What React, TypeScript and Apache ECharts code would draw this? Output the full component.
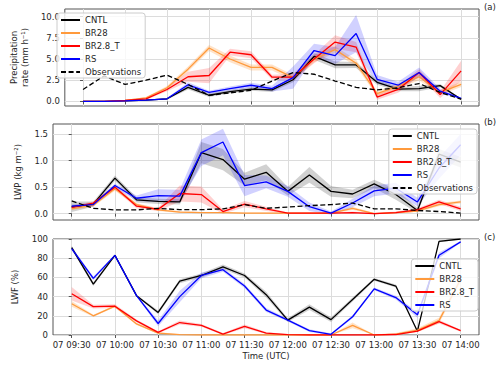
import React, { useEffect, useRef } from "react";
import * as echarts from "echarts";

const times = ["09:30","09:45","10:00","10:15","10:30","10:45","11:00","11:15","11:30","11:45","12:00","12:15","12:30","12:45","13:00","13:15","13:30","13:45","14:00"];
const xTickIdx = [0, 2, 4, 6, 8, 10, 12, 14, 16, 18];

const names = ["CNTL", "BR28", "BR2.8_T", "RS"];
const obsName = "Observations";
const lineColors = ["#000000", "#ff9a3c", "#ff0000", "#0000ff"];
const bandColors = ["rgba(0,0,0,0.18)", "rgba(255,154,60,0.28)", "rgba(255,0,0,0.18)", "rgba(0,0,255,0.18)"];

// Panel (a): precipitation rate (mm h-1)
const cntlA = [0, 0, 0.05, 0.15, 0.3, 1.65, 0.72, 1.15, 1.45, 1.35, 2.55, 5.3, 4.3, 4.3, 2.25, 1.45, 1.5, 1.85, 0.25];
const br28A = [0, 0, 0.1, 0.4, 1.6, 3.8, 6.3, 5.0, 4.0, 4.0, 2.8, 5.0, 6.1, 4.5, 0.9, 1.8, 2.9, 1.05, 2.0];
const br28tA = [0, 0, 0.1, 0.3, 1.4, 2.9, 3.05, 5.8, 5.5, 2.85, 2.85, 5.0, 7.0, 6.4, 0.5, 1.4, 3.4, 0.8, 3.6];
const rsA = [0, 0, 0.05, 0.15, 0.3, 1.95, 1.05, 1.5, 1.9, 1.5, 2.8, 6.0, 5.4, 8.0, 2.6, 1.9, 3.4, 1.2, 0.35];
const obsA = [1.4, 3.0, 2.0, 2.5, 3.1, 2.0, 0.7, 1.0, 1.3, 2.4, 3.4, 3.2, 2.4, 1.65, 1.35, 1.6, 2.1, 1.05, 0.25];
const cntlSpreadA = [0, 0, 0.02, 0.05, 0.1, 0.25, 0.2, 0.2, 0.2, 0.25, 0.3, 0.4, 0.4, 0.35, 0.3, 0.25, 0.3, 0.2, 0.1];
const br28SpreadA = [0, 0, 0.05, 0.1, 0.2, 0.3, 0.35, 0.4, 0.35, 0.35, 0.3, 0.4, 0.4, 0.4, 0.3, 0.3, 0.4, 0.3, 0.3];
const br28tSpreadA = [0, 0, 0.05, 0.1, 0.2, 0.6, 0.9, 0.4, 0.4, 0.3, 0.4, 0.5, 0.8, 0.6, 0.3, 0.4, 0.4, 0.4, 1.2];
const rsSpreadA = [0, 0, 0.02, 0.05, 0.1, 0.3, 0.2, 0.25, 0.3, 0.35, 1.3, 0.8, 1.0, 2.2, 0.5, 0.4, 0.6, 0.3, 0.1];
const yTicksA = [0, 2.5, 5, 7.5, 10];

// Panel (b): LWP (kg m-2)
const cntlB = [0.13, 0.18, 0.67, 0.26, 0.23, 0.22, 1.15, 1.02, 0.65, 0.78, 0.42, 0.73, 0.42, 0.37, 0.56, 0.36, 0.06, 1.12, 0.97];
const br28B = [0.09, 0.16, 0.47, 0.17, 0.07, 0.03, 0.02, 0.02, 0.01, 0.01, 0.01, 0.01, 0.01, 0.1, 0.0, 0.02, 0.05, 0.17, 0.22];
const br28tB = [0.12, 0.2, 0.5, 0.14, 0.08, 0.38, 0.36, 0.04, 0.18, 0.09, 0.01, 0.01, 0.01, 0.02, 0.0, 0.02, 0.07, 0.22, 0.09];
const rsB = [0.14, 0.17, 0.53, 0.29, 0.34, 0.33, 1.15, 1.35, 0.53, 0.6, 0.42, 0.13, 0.01, 0.2, 0.43, 0.48, 0.22, 0.86, 1.3];
const obsB = [0.24, 0.1, 0.07, 0.07, 0.1, 0.075, 0.075, 0.09, 0.17, 0.1, 0.125, 0.15, 0.17, 0.2, 0.09, 0.09, 0.06, 0.04, 0.01];
const cntlSpreadB = [0.1, 0.05, 0.05, 0.05, 0.05, 0.05, 0.2, 0.2, 0.12, 0.15, 0.08, 0.15, 0.1, 0.08, 0.08, 0.1, 0.05, 0.1, 0.1];
const br28SpreadB = [0.02, 0.03, 0.04, 0.03, 0.02, 0.02, 0.01, 0.01, 0.01, 0.01, 0.01, 0.01, 0.01, 0.03, 0.01, 0.01, 0.02, 0.03, 0.03];
const br28tSpreadB = [0.03, 0.03, 0.04, 0.04, 0.03, 0.15, 0.15, 0.04, 0.06, 0.04, 0.01, 0.01, 0.01, 0.02, 0.01, 0.02, 0.03, 0.04, 0.04];
const rsSpreadB = [0.03, 0.03, 0.04, 0.05, 0.12, 0.12, 0.25, 0.25, 0.2, 0.12, 0.1, 0.08, 0.03, 0.08, 0.1, 0.1, 0.08, 0.2, 0.2];
const yTicksB = [0, 0.5, 1.0, 1.5];

// Panel (c): LWF (%)
const cntlC = [91, 53, 83, 41, 23.5, 56, 62, 71, 62, 42, 15.5, 29, 16, 37, 58, 51, 4, 97.5, 100];
const br28C = [32.5, 20, 30, 11.5, 2, 0.3, 0, 0, 0, 0, 0, 0, 0, 10, 0, 1, 5, 15, 58];
const br28tC = [43, 29.5, 30, 14.7, 2.8, 13, 10, 1, 9, 2, 0.3, 0, 0, 0, 0, 0.5, 4, 14, 4.5];
const rsC = [90, 59, 83, 41, 12, 40, 62, 68, 51, 26, 15.5, 4.5, 0.7, 19, 48, 39, 21, 83, 97];
const cntlSpreadC = [2, 2, 1, 1, 2, 2, 2, 2.5, 2, 3, 2, 3, 2.5, 2, 1.5, 1.5, 1, 1, 0.5];
const br28SpreadC = [3, 1, 1, 1, 1, 0.5, 0, 0, 0, 0, 0, 0, 0, 3, 0, 1, 2, 3, 3];
const br28tSpreadC = [7, 2, 2, 1.5, 1, 2, 1.5, 1, 2, 1, 0.5, 0.2, 0, 0, 0, 0.5, 1, 2, 1];
const rsSpreadC = [2, 2, 1, 1, 3, 6, 3, 2, 2, 2, 1.5, 1.5, 1, 1.5, 1.5, 2, 3, 3, 1];

const FONT = "DejaVu Sans";
const TXT = "#262626";
const FS = 8.5;

function bandRender(color: string) {
  return (params: any, api: any) => {
    if (params.dataIndexInside !== 0) return null;
    const n = params.dataInsideLength;
    const upper: number[][] = [];
    const lower: number[][] = [];
    for (let j = 0; j < n; j++) {
      const x = api.value(0, j);
      lower.push(api.coord([x, api.value(1, j)]));
      upper.push(api.coord([x, api.value(2, j)]));
    }
    const pts = lower.concat(upper.reverse());
    return {
      type: "polygon",
      shape: { points: pts },
      style: { fill: color, stroke: "none" },
      silent: true,
    };
  };
}

function panelSeries(gi: number, vals: number[][], spreads: number[][], obs: number[] | null) {
  const out: any[] = [];
  vals.forEach((v, k) => {
    out.push({
      type: "custom", name: "band" + gi + "_" + k, xAxisIndex: gi, yAxisIndex: gi,
      data: v.map((y, i) => [i, y - spreads[k][i], y + spreads[k][i]]),
      renderItem: bandRender(bandColors[k]), clip: true, silent: true, z: 1,
      encode: { x: 0, y: [1, 2] },
    });
  });
  vals.forEach((v, k) => {
    out.push({
      type: "line", name: names[k], xAxisIndex: gi, yAxisIndex: gi,
      data: v.map((y, i) => [i, y]), symbol: "none",
      lineStyle: { color: lineColors[k], width: 1.3 }, itemStyle: { color: lineColors[k] }, z: 3,
    });
  });
  if (obs) {
    out.push({
      type: "line", name: obsName, xAxisIndex: gi, yAxisIndex: gi,
      data: obs.map((y, i) => [i, y]), symbol: "none",
      lineStyle: { color: "#000", width: 1.3, type: [5, 2.6] }, itemStyle: { color: "#000" }, z: 3,
    });
  }
  return out;
}

function xAxis(gi: number) {
  return {
    type: "value", gridIndex: gi, min: -0.866, max: 18.85,
    axisLine: { show: false },
    axisTick: { show: true, customValues: xTickIdx, length: 3, lineStyle: { color: "#555" } },
    axisLabel: {
      show: gi === 2, customValues: xTickIdx, margin: 5,
      formatter: (v: number) => "07 " + times[Math.round(v)],
      fontSize: FS, fontFamily: FONT, color: TXT,
    },
    splitLine: { show: true, lineStyle: { color: "#dcdcdc", width: 1 } },
    name: gi === 2 ? "Time (UTC)" : "", nameLocation: "middle", nameGap: 16,
    nameTextStyle: { fontSize: FS, fontFamily: FONT, color: TXT },
  };
}

function legend(items: string[], pos: any) {
  return {
    data: items, orient: "vertical", selectedMode: false, ...pos,
    itemWidth: 19, itemHeight: 10, itemGap: 3, padding: [2, 4, 1, 3],
    itemStyle: { opacity: 0, color: "transparent", borderWidth: 0 },
    backgroundColor: "rgba(255,255,255,0.8)", borderColor: "#cccccc", borderWidth: 1, borderRadius: 3,
    textStyle: { fontSize: FS, fontFamily: FONT, color: TXT, lineHeight: 10 },
  };
}

export default function App() {
  const ref = useRef<HTMLDivElement>(null);
  useEffect(() => {
    if (!ref.current) return;
    const chart = echarts.init(ref.current, null, { renderer: "svg" });
    const yBase = {
      type: "value", axisLine: { show: false },
      axisTick: { show: true, length: 3, lineStyle: { color: "#555" } },
      splitLine: { show: true, lineStyle: { color: "#dcdcdc", width: 1 } },
      nameLocation: "middle", nameRotate: 90,
      nameTextStyle: { fontSize: FS, fontFamily: FONT, color: TXT, lineHeight: 11 },
    };
    const labelStyle = { fontSize: FS, fontFamily: FONT, color: TXT, margin: 5 };
    const option: any = {
      animation: false,
      grid: [
        { left: 53, right: 21, top: 9, height: 97, show: true, borderColor: "#555", borderWidth: 1, backgroundColor: "transparent" },
        { left: 53, right: 21, top: 124, height: 96, show: true, borderColor: "#555", borderWidth: 1, backgroundColor: "transparent" },
        { left: 53, right: 21, top: 239, height: 96, show: true, borderColor: "#555", borderWidth: 1, backgroundColor: "transparent" },
      ],
      xAxis: [xAxis(0), xAxis(1), xAxis(2)],
      yAxis: [
        {
          ...yBase, gridIndex: 0, min: -0.55, max: 10.9,
          axisTick: { ...yBase.axisTick, customValues: yTicksA },
          axisLabel: { ...labelStyle, customValues: yTicksA, formatter: (v: number) => v.toFixed(1) },
          name: "Precipitation\nrate (mm h\u207B\u00B9)", nameGap: 30,
        },
        {
          ...yBase, gridIndex: 1, min: -0.12, max: 1.69,
          axisTick: { ...yBase.axisTick, customValues: yTicksB },
          axisLabel: { ...labelStyle, customValues: yTicksB, formatter: (v: number) => v.toFixed(1) },
          name: "LWP (kg m\u207B\u00B2)", nameGap: 25,
        },
        {
          ...yBase, gridIndex: 2, min: 0, max: 100, interval: 20,
          axisLabel: { ...labelStyle, formatter: (v: number) => String(Math.round(v)) },
          name: "LWF (%)", nameGap: 25,
        },
      ],
      legend: [
        legend([...names, obsName], { left: 57, top: 13 }),
        legend([...names, obsName], { right: 23, top: 129 }),
        legend(names, { right: 22, top: 259 }),
      ],
      graphic: [
        { type: "text", left: 484, top: 2, style: { text: "(a)", fontSize: FS, fontFamily: FONT, fill: TXT } },
        { type: "text", left: 484, top: 117, style: { text: "(b)", fontSize: FS, fontFamily: FONT, fill: TXT } },
        { type: "text", left: 484, top: 232, style: { text: "(c)", fontSize: FS, fontFamily: FONT, fill: TXT } },
      ],
      series: [
        ...panelSeries(0, [cntlA, br28A, br28tA, rsA], [cntlSpreadA, br28SpreadA, br28tSpreadA, rsSpreadA], obsA),
        ...panelSeries(1, [cntlB, br28B, br28tB, rsB], [cntlSpreadB, br28SpreadB, br28tSpreadB, rsSpreadB], obsB),
        ...panelSeries(2, [cntlC, br28C, br28tC, rsC], [cntlSpreadC, br28SpreadC, br28tSpreadC, rsSpreadC], null),
      ],
    };
    chart.setOption(option);
    return () => chart.dispose();
  }, []);
  return <div ref={ref} style={{ position: "fixed", left: 0, top: 0, width: 500, height: 365, background: "#fff" }} />;
}
